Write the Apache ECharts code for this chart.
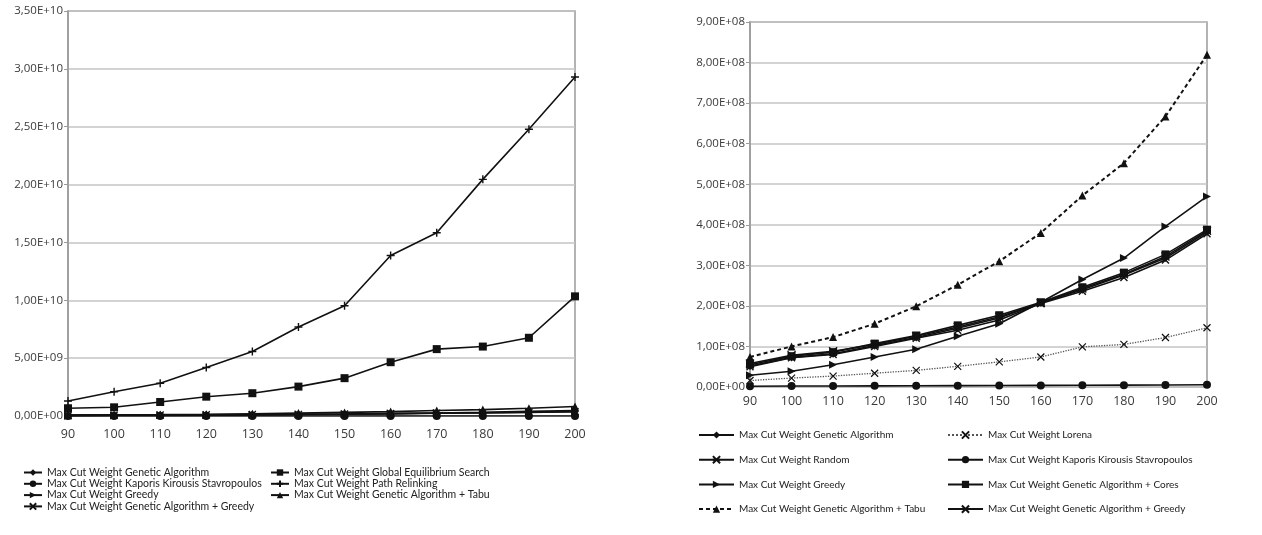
<!DOCTYPE html>
<html>
<head>
<meta charset="utf-8">
<script src="https://cdn.jsdelivr.net/npm/echarts@6/dist/echarts.min.js"></script>
<style>
  html, body { margin: 0; padding: 0; background: #fff; }
  #chart { width: 1262px; height: 535px; }
</style>
</head>
<body>
<div id="chart"></div>
<script>
// Problem sizes (number of vertices)
const sizes = ['90', '100', '110', '120', '130', '140', '150', '160', '170', '180', '190', '200'];

// Max cut weights per algorithm
const gaWeight        = [5.2e7, 7.3e7, 8.2e7, 1.02e8, 1.22e8, 1.45e8, 1.70e8, 2.08e8, 2.40e8, 2.76e8, 3.18e8, 3.82e8];
const lorenaWeight    = [1.6e7, 2.2e7, 2.7e7, 3.4e7, 4.1e7, 5.1e7, 6.2e7, 7.4e7, 9.9e7, 1.05e8, 1.22e8, 1.46e8];
const randomWeight    = [5.8e7, 7.8e7, 8.8e7, 1.05e8, 1.25e8, 1.48e8, 1.73e8, 2.07e8, 2.43e8, 2.78e8, 3.22e8, 3.85e8];
const kksWeight       = [2.0e6, 2.3e6, 2.5e6, 2.8e6, 3.0e6, 3.3e6, 3.6e6, 3.9e6, 4.2e6, 4.6e6, 5.0e6, 5.5e6];
const greedyWeight    = [2.9e7, 3.9e7, 5.5e7, 7.4e7, 9.3e7, 1.25e8, 1.56e8, 2.09e8, 2.65e8, 3.18e8, 3.96e8, 4.70e8];
const gaCoresWeight   = [5.5e7, 7.6e7, 8.6e7, 1.07e8, 1.27e8, 1.52e8, 1.77e8, 2.09e8, 2.46e8, 2.82e8, 3.27e8, 3.88e8];
const gaTabuWeight    = [7.4e7, 1.00e8, 1.23e8, 1.56e8, 1.99e8, 2.52e8, 3.10e8, 3.80e8, 4.72e8, 5.52e8, 6.67e8, 8.19e8];
const gaGreedyWeight  = [5.0e7, 7.2e7, 8.0e7, 1.00e8, 1.20e8, 1.40e8, 1.65e8, 2.06e8, 2.36e8, 2.70e8, 3.13e8, 3.78e8];
const gesWeight       = [6.7e8, 7.5e8, 1.21e9, 1.67e9, 1.97e9, 2.54e9, 3.27e9, 4.65e9, 5.78e9, 6.00e9, 6.76e9, 1.034e10];
const pathRelinkWeight= [1.30e9, 2.10e9, 2.83e9, 4.19e9, 5.57e9, 7.69e9, 9.53e9, 1.387e10, 1.583e10, 2.045e10, 2.478e10, 2.93e10];

// Axis ranges
const leftMax = 3.5e10, leftStep = 5e9;
const rightMax = 9e8, rightStep = 1e8;

// Series names
const N = {
  ga: 'Max Cut Weight Genetic Algorithm',
  ges: 'Max Cut Weight Global Equilibrium Search',
  kks: 'Max Cut Weight Kaporis Kirousis Stavropoulos',
  pr: 'Max Cut Weight Path Relinking',
  greedy: 'Max Cut Weight Greedy',
  tabu: 'Max Cut Weight Genetic Algorithm + Tabu',
  gaGreedy: 'Max Cut Weight Genetic Algorithm + Greedy',
  lorena: 'Max Cut Weight Lorena',
  random: 'Max Cut Weight Random',
  cores: 'Max Cut Weight Genetic Algorithm + Cores'
};

// Scientific labels with a decimal comma, e.g. 3,50E+10
function sci(v) {
  if (v === 0) return '0,00E+00';
  const e = Math.floor(Math.log10(Math.abs(v)) + 1e-9);
  const m = v / Math.pow(10, e);
  return m.toFixed(2).replace('.', ',') + 'E+' + String(e).padStart(2, '0');
}

const PLUS = 'path://M0,5L10,5M5,0L5,10';
const CROSS = 'path://M0,0L10,10M10,0L0,10';
const STAR = 'path://M0,0L10,10M10,0L0,10M0,5L10,5';
const TABU_DASH = [4, 3];

function mk(name, data, axisIdx, sym, opt) {
  opt = opt || {};
  return {
    name: name,
    type: 'line',
    xAxisIndex: axisIdx,
    yAxisIndex: axisIdx,
    data: data,
    symbol: sym,
    symbolSize: opt.size || 7,
    symbolRotate: opt.rotate || 0,
    showSymbol: true,
    animation: false,
    z: opt.z || 2,
    lineStyle: Object.assign({ color: '#111', width: 1.6, type: 'solid' }, opt.line || {}),
    itemStyle: {
      color: opt.fill || '#111',
      borderColor: '#111',
      borderWidth: opt.bw != null ? opt.bw : 0
    }
  };
}

const axisFont = { fontFamily: 'Open Sans', fontSize: 11.5, color: '#3a3a3a' };
const legendFontL = { fontFamily: 'Lato', fontSize: 10.5, color: '#222', lineHeight: 11 };
const legendFontR = { fontFamily: 'Lato', fontSize: 10, color: '#222', lineHeight: 12 };

function xAxis(gridIndex, margin) {
  return {
    type: 'category', gridIndex: gridIndex, data: sizes, boundaryGap: false,
    axisLine: { show: false },
    axisTick: { show: false },
    axisLabel: Object.assign({}, axisFont, { margin: margin, fontSize: 12.5 }),
    splitLine: { show: false }
  };
}
function yAxis(gridIndex, max, step) {
  return {
    type: 'value', gridIndex: gridIndex, min: 0, max: max, interval: step,
    axisLine: { show: true, lineStyle: { color: '#9a9a9a', width: 1.5 } },
    axisTick: { show: true, length: 4, lineStyle: { color: '#9a9a9a' } },
    axisLabel: Object.assign({ margin: 5, formatter: sci }, axisFont),
    splitLine: { show: true, lineStyle: { color: '#c4c4c4', width: 1.5 } }
  };
}

// In the right panel the Tabu series is dashed, so its legend icon is too
function legendItems(names, dashedTabu) {
  return names.map(n => (dashedTabu && n === N.tabu) ? { name: n, lineStyle: { type: TABU_DASH } } : { name: n });
}

const option = {
  backgroundColor: '#fff',
  animation: false,
  grid: [
    { left: 68, right: 687, top: 11, bottom: 119, show: true, borderColor: '#9a9a9a', borderWidth: 1.5, containLabel: false },
    { left: 750, right: 55, top: 22, bottom: 148, show: true, borderColor: '#9a9a9a', borderWidth: 1.5, containLabel: false }
  ],
  xAxis: [xAxis(0, 12), xAxis(1, 8)],
  yAxis: [yAxis(0, leftMax, leftStep), yAxis(1, rightMax, rightStep)],
  legend: [
    { left: 18, top: 462, orient: 'vertical', itemWidth: 18, itemHeight: 8, itemGap: 0.3, textStyle: legendFontL,
      data: legendItems([N.ga, N.kks, N.greedy, N.gaGreedy], false), selectedMode: false },
    { left: 265, top: 462, orient: 'vertical', itemWidth: 18, itemHeight: 8, itemGap: 0.3, textStyle: legendFontL,
      data: legendItems([N.ges, N.pr, N.tabu], false), selectedMode: false },
    { left: 693, top: 424, orient: 'vertical', itemWidth: 35, itemHeight: 9, itemGap: 12.7, textStyle: legendFontR,
      data: legendItems([N.ga, N.random, N.greedy, N.tabu], true), selectedMode: false },
    { left: 942, top: 424, orient: 'vertical', itemWidth: 35, itemHeight: 9, itemGap: 12.7, textStyle: legendFontR,
      data: legendItems([N.lorena, N.kks, N.cores, N.gaGreedy], true), selectedMode: false }
  ],
  series: [
    // left panel
    mk(N.ga, gaWeight, 0, 'diamond', { size: 8 }),
    mk(N.ges, gesWeight, 0, 'rect', { size: 8 }),
    mk(N.kks, kksWeight, 0, 'circle', { size: 8 }),
    mk(N.pr, pathRelinkWeight, 0, PLUS, { size: 8, bw: 1.4 }),
    mk(N.greedy, greedyWeight, 0, 'triangle', { size: 8, rotate: -90 }),
    mk(N.tabu, gaTabuWeight, 0, 'triangle', { size: 8 }),
    mk(N.gaGreedy, gaGreedyWeight, 0, CROSS, { size: 7, bw: 1.4 }),
    // right panel
    mk(N.ga, gaWeight, 1, 'diamond', { size: 8 }),
    mk(N.lorena, lorenaWeight, 1, CROSS, { size: 7, bw: 1.2, line: { type: 'dotted', width: 1.3, color: '#555' } }),
    mk(N.random, randomWeight, 1, STAR, { size: 8, bw: 1.4 }),
    mk(N.kks, kksWeight, 1, 'circle', { size: 8 }),
    mk(N.greedy, greedyWeight, 1, 'triangle', { size: 8, rotate: -90 }),
    mk(N.cores, gaCoresWeight, 1, 'rect', { size: 8 }),
    mk(N.tabu, gaTabuWeight, 1, 'triangle', { size: 8, line: { type: TABU_DASH, width: 2 } }),
    mk(N.gaGreedy, gaGreedyWeight, 1, CROSS, { size: 7, bw: 1.4 })
  ]
};

const chart = echarts.init(document.getElementById('chart'), null, { renderer: 'canvas' });
chart.setOption(option);
</script>
</body>
</html>
